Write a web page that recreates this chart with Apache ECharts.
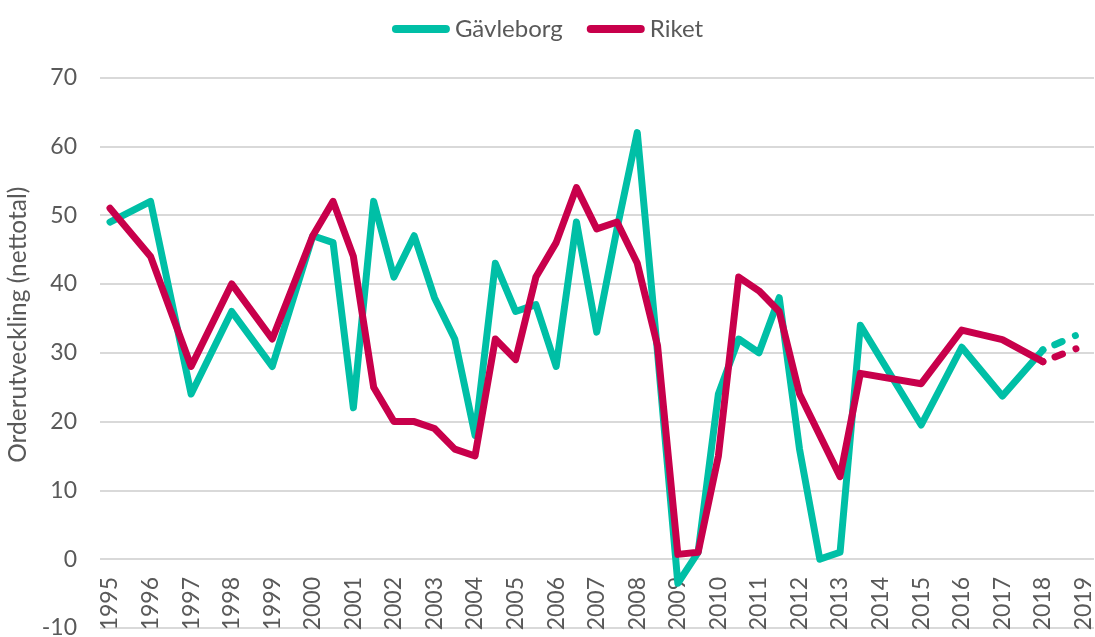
<!DOCTYPE html>
<html>
<head>
<meta charset="utf-8">
<script src="https://cdn.jsdelivr.net/npm/echarts@6/dist/echarts.min.js"></script>
<style>
html,body{margin:0;padding:0;background:#fff;}
#chart{width:1095px;height:637px;}
</style>
</head>
<body>
<div id="chart"></div>
<script>
// Tick labels (years on the x axis)
const yearTicks = [1995,1996,1997,1998,1999,2000,2001,2002,2003,2004,2005,2006,2007,2008,2009,2010,2011,2012,2013,2014,2015,2016,2017,2018,2019];

// Gävleborg (observed)
const gavleborgX = [1995,1996,1997,1998,1999,2000,2000.5,2001,2001.5,2002,2002.5,2003,2003.5,2004,2004.5,2005,2005.5,2006,2006.5,2007,2007.5,2008,2008.5,2009,2009.5,2010,2010.5,2011,2011.5,2012,2012.5,2013,2013.5,2015,2016,2017,2018];
const gavleborgY = [49,52,24,36,28,47,46,22,52,41,47,38,32,18,43,36,37,28,49,33,48,62,30,-3.5,1,24,32,30,38,16,0,1,34,19.5,30.8,23.7,30.4];

// Riket (observed)
const riketX = [1995,1996,1997,1998,1999,2000,2000.5,2001,2001.5,2002,2002.5,2003,2003.5,2004,2004.5,2005,2005.5,2006,2006.5,2007,2007.5,2008,2008.5,2009,2009.5,2010,2010.5,2011,2011.5,2012,2013,2013.5,2015,2016,2017,2018];
const riketY = [51,44,28,40,32,47,52,44,25,20,20,19,16,15,32,29,41,46,54,48,49,43,31,0.7,1,15,41,39,36,24,12,27,25.5,33.3,31.9,28.7];

// Forecast (dotted)
const forecastX = [2018, 2019];
const gavleborgForecast = [30.4, 33];
const riketForecast = [28.7, 31];

const TEAL = '#00BFA6';
const RED = '#C8004B';
const TXT = '#595959';
const FONT = 'Lato, "Liberation Sans", sans-serif';

const pairs = (xs, ys) => xs.map((x, i) => [x, ys[i]]);

const chart = echarts.init(document.getElementById('chart'), null, {renderer: 'canvas'});
const capsule = 'path://M4,0 L54,0 A4,4 0 0 1 54,8 L4,8 A4,4 0 0 1 4,0 Z';

chart.setOption({
  animation: false,
  backgroundColor: '#fff',
  legend: {
    data: ['Gävleborg', 'Riket'],
    top: 12,
    left: 'center',
    icon: capsule,
    itemWidth: 58,
    itemHeight: 8,
    itemGap: 24,
    textStyle: {fontSize: 24, color: TXT, fontFamily: FONT}
  },
  grid: {left: 100, right: 1, top: 77.5, bottom: 9, containLabel: false, outerBoundsMode: 'none'},
  xAxis: {
    type: 'value',
    position: 'bottom',
    min: 1994.7535,
    max: 2019.2605,
    axisLine: {show: false, onZero: false},
    axisTick: {show: false},
    splitLine: {show: false},
    axisLabel: {
      customValues: yearTicks,
      rotate: 90,
      margin: -51,
      fontSize: 23,
      color: TXT,
      fontFamily: FONT,
      formatter: v => String(v)
    }
  },
  yAxis: {
    type: 'value',
    min: -10,
    max: 70,
    interval: 10,
    name: 'Orderutveckling (nettotal)',
    nameLocation: 'middle',
    nameGap: 63,
    nameTextStyle: {fontSize: 24.5, color: TXT, fontFamily: FONT, padding: [0, 0, 0, 56]},
    axisLine: {show: false},
    axisTick: {show: false},
    axisLabel: {fontSize: 23, color: TXT, fontFamily: FONT, margin: 23},
    splitLine: {lineStyle: {color: '#D9D9D9', width: 2}}
  },
  series: [
    {
      name: 'Gävleborg', type: 'line', data: pairs(gavleborgX, gavleborgY),
      showSymbol: false, symbol: 'none', z: 2,
      itemStyle: {color: TEAL},
      lineStyle: {color: TEAL, width: 7, join: 'round', cap: 'round'}
    },
    {
      name: 'Gävleborg prognos', type: 'line', data: pairs(forecastX, gavleborgForecast),
      showSymbol: false, symbol: 'none', z: 2,
      itemStyle: {color: TEAL},
      lineStyle: {color: TEAL, width: 7, cap: 'round', type: [0.01, 13, 8, 14.5, 0.01, 100]}
    },
    {
      name: 'Riket', type: 'line', data: pairs(riketX, riketY),
      showSymbol: false, symbol: 'none', z: 3,
      itemStyle: {color: RED},
      lineStyle: {color: RED, width: 7, join: 'round', cap: 'round'}
    },
    {
      name: 'Riket prognos', type: 'line', data: pairs(forecastX, riketForecast),
      showSymbol: false, symbol: 'none', z: 3,
      itemStyle: {color: RED},
      lineStyle: {color: RED, width: 7, cap: 'round', type: [0.01, 13, 8, 14.5, 0.01, 100]}
    }
  ]
});
</script>
</body>
</html>
